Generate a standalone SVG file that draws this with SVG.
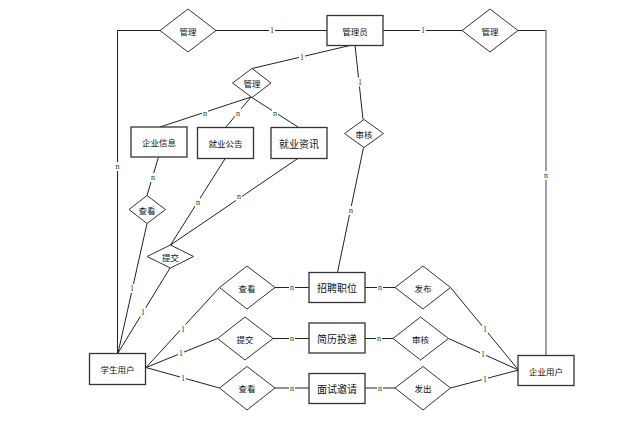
<svg xmlns="http://www.w3.org/2000/svg" width="638" height="429" viewBox="0 0 638 429">
<style>
.ent{fill:#fff;stroke:#333;stroke-width:1.3}
.rel{fill:#fff;stroke:#333;stroke-width:1}
.t{font-family:"Noto Sans CJK SC","Liberation Sans",sans-serif;font-size:8.5px;fill:#111;text-anchor:middle;dominant-baseline:central}
.tb{font-size:10px}
.ln{fill:none;stroke:#222;stroke-width:1}
.gl{fill:none;stroke:#888;stroke-width:1.6}
.lb{font-family:"Liberation Serif",serif;font-size:8px;fill:#333;text-anchor:middle;dominant-baseline:central}
.lbg{fill:#fff}
</style>
<rect width="638" height="429" fill="#fff"/>
<g id="connectors">
<polyline class="ln" points="160,30.5 117.5,30.5 117.5,353"/>
<line class="ln" x1="216" y1="30.5" x2="327" y2="30.5"/>
<line class="ln" x1="383" y1="30.5" x2="462" y2="30.5"/>
<line class="ln" x1="518" y1="30.5" x2="546" y2="30.5"/>
<line class="gl" x1="546" y1="30" x2="546" y2="355"/>
<line class="ln" x1="352" y1="45" x2="252" y2="68.5"/>
<line class="ln" x1="355" y1="45" x2="363" y2="119.5"/>
<line class="ln" x1="251" y1="97" x2="160" y2="127"/>
<line class="ln" x1="251" y1="97" x2="226" y2="127"/>
<line class="ln" x1="251" y1="97" x2="298" y2="127"/>
<line class="ln" x1="158.5" y1="157" x2="147" y2="195.5"/>
<line class="ln" x1="147" y1="223.5" x2="118" y2="353"/>
<line class="ln" x1="225.5" y1="158" x2="170.5" y2="245"/>
<line class="ln" x1="298.5" y1="158" x2="170.5" y2="245"/>
<line class="ln" x1="170" y1="268" x2="118" y2="353"/>
<line class="ln" x1="363.5" y1="147.5" x2="337.5" y2="272.5"/>
<line class="ln" x1="146" y1="367.5" x2="219.5" y2="287.5"/>
<line class="ln" x1="146" y1="367.5" x2="217.5" y2="338.5"/>
<line class="ln" x1="146" y1="367.5" x2="219.5" y2="388"/>
<line class="ln" x1="275" y1="287.5" x2="309" y2="287.5"/>
<line class="ln" x1="273" y1="338.5" x2="309" y2="338.5"/>
<line class="ln" x1="275" y1="388" x2="309" y2="388"/>
<line class="ln" x1="365" y1="287.5" x2="395" y2="287.5"/>
<line class="ln" x1="365" y1="338.5" x2="393" y2="338.5"/>
<line class="ln" x1="365" y1="388" x2="395" y2="388"/>
<line class="ln" x1="450.5" y1="287.5" x2="518.5" y2="370"/>
<line class="ln" x1="448.5" y1="338.5" x2="518.5" y2="370"/>
<line class="ln" x1="450.5" y1="388" x2="518.5" y2="370"/>
<g id="labels">
<rect class="lbg" x="269" y="26" width="6" height="9"/><text class="lb" x="272" y="30.5">1</text>
<rect class="lbg" x="420" y="26" width="6" height="9"/><text class="lb" x="423" y="30.5">1</text>
<rect class="lbg" x="299" y="52.5" width="6" height="9"/><text class="lb" x="302" y="57">1</text>
<rect class="lbg" x="357" y="77.5" width="6" height="9"/><text class="lb" x="360" y="82">1</text>
<rect class="lbg" x="202" y="109" width="6" height="9"/><text class="lb" x="205" y="113">n</text>
<rect class="lbg" x="235" y="109" width="6" height="9"/><text class="lb" x="238" y="113">n</text>
<rect class="lbg" x="272" y="109" width="6" height="9"/><text class="lb" x="275" y="113">n</text>
<rect class="lbg" x="114" y="162" width="7" height="9"/><text class="lb" x="117.5" y="166">n</text>
<rect class="lbg" x="542.5" y="171" width="7" height="9"/><text class="lb" x="546" y="175">n</text>
<rect class="lbg" x="150" y="173" width="6" height="9"/><text class="lb" x="153" y="177">n</text>
<rect class="lbg" x="195" y="198" width="6" height="9"/><text class="lb" x="198" y="202">n</text>
<rect class="lbg" x="236" y="192" width="6" height="9"/><text class="lb" x="239" y="196">n</text>
<rect class="lbg" x="348" y="206" width="6" height="9"/><text class="lb" x="351" y="210">n</text>
<rect class="lbg" x="129" y="284" width="6" height="9"/><text class="lb" x="132" y="288.5">1</text>
<rect class="lbg" x="140" y="307.5" width="6" height="9"/><text class="lb" x="143" y="312">1</text>
<rect class="lbg" x="180" y="324.5" width="6" height="9"/><text class="lb" x="183" y="329">1</text>
<rect class="lbg" x="178" y="349" width="6" height="9"/><text class="lb" x="181" y="353.5">1</text>
<rect class="lbg" x="180" y="373.5" width="6" height="9"/><text class="lb" x="183" y="378">1</text>
<rect class="lbg" x="289" y="283.5" width="6" height="9"/><text class="lb" x="292" y="287.5">n</text>
<rect class="lbg" x="289" y="334.5" width="6" height="9"/><text class="lb" x="292" y="338.5">n</text>
<rect class="lbg" x="289" y="384" width="6" height="9"/><text class="lb" x="292" y="388">n</text>
<rect class="lbg" x="377" y="283.5" width="6" height="9"/><text class="lb" x="380" y="287.5">n</text>
<rect class="lbg" x="376" y="334.5" width="6" height="9"/><text class="lb" x="379" y="338.5">n</text>
<rect class="lbg" x="377" y="384" width="6" height="9"/><text class="lb" x="380" y="388">n</text>
<rect class="lbg" x="482" y="324.5" width="6" height="9"/><text class="lb" x="485" y="329">1</text>
<rect class="lbg" x="480" y="350" width="6" height="9"/><text class="lb" x="483" y="354.5">1</text>
<rect class="lbg" x="482" y="374.5" width="6" height="9"/><text class="lb" x="485" y="379">1</text>
</g>
</g>
<g id="admin"><rect class="ent" x="327" y="15.5" width="56" height="30"/><text class="t" x="355" y="30.5">管理员</text></g>
<g id="manage-left"><polygon class="rel" points="160,30.5 188,9 216,30.5 188,52"/><text class="t" x="188" y="30.5">管理</text></g>
<g id="manage-right"><polygon class="rel" points="462,30.5 490,9 518,30.5 490,52"/><text class="t" x="490" y="30.5">管理</text></g>
<g id="manage-mid"><polygon class="rel" points="232.5,83 252,68.5 271,83 252,97.5"/><text class="t" x="252" y="83">管理</text></g>
<g id="company-info"><rect class="ent" x="131" y="127" width="56" height="30"/><text class="t" x="159" y="142">企业信息</text></g>
<g id="job-notice"><rect class="ent" x="197.5" y="127.5" width="56" height="31"/><text class="t" x="225.5" y="143">就业公告</text></g>
<g id="job-news"><rect class="ent" x="271" y="127.5" width="56" height="31"/><text class="t tb" x="299" y="143">就业资讯</text></g>
<g id="audit-top"><polygon class="rel" points="344.5,133.5 364,119.5 383.5,133.5 364,147.5"/><text class="t" x="364" y="133.5">审核</text></g>
<g id="view-small"><polygon class="rel" points="129,209.5 147,195.5 165.5,209.5 147,223.5"/><text class="t" x="147" y="209.5">查看</text></g>
<g id="submit-small"><polygon class="rel" points="147,256.5 170.5,245 193.5,256.5 170.5,268"/><text class="t" x="170.5" y="256.5">提交</text></g>
<g id="student"><rect class="ent" x="89.5" y="353.5" width="56" height="31"/><text class="t" x="117.5" y="369">学生用户</text></g>
<g id="view-1"><polygon class="rel" points="219.5,287.5 247,266 275,287.5 247,309"/><text class="t" x="247" y="287.5">查看</text></g>
<g id="submit-2"><polygon class="rel" points="217.5,338.5 245,317 273,338.5 245,360"/><text class="t" x="245" y="338.5">提交</text></g>
<g id="view-3"><polygon class="rel" points="219.5,388 247,366.5 275,388 247,410"/><text class="t" x="247" y="388">查看</text></g>
<g id="job-post"><rect class="ent" x="309" y="272.5" width="56" height="30"/><text class="t tb" x="337" y="287.5">招聘职位</text></g>
<g id="resume"><rect class="ent" x="309" y="323" width="56" height="30"/><text class="t tb" x="337" y="338">简历投递</text></g>
<g id="interview"><rect class="ent" x="309" y="373.5" width="56" height="30"/><text class="t tb" x="337" y="388.5">面试邀请</text></g>
<g id="publish"><polygon class="rel" points="395,287.5 423,266 450.5,287.5 423,309"/><text class="t" x="423" y="287.5">发布</text></g>
<g id="audit-2"><polygon class="rel" points="393,338.5 420.5,317 448.5,338.5 420.5,360"/><text class="t" x="420.5" y="338.5">审核</text></g>
<g id="send"><polygon class="rel" points="395,388 423,366.5 450.5,388 423,410"/><text class="t" x="423" y="388">发出</text></g>
<g id="company"><rect class="ent" x="518" y="355.5" width="56" height="30"/><text class="t" x="546" y="370.5">企业用户</text></g>
</svg>
